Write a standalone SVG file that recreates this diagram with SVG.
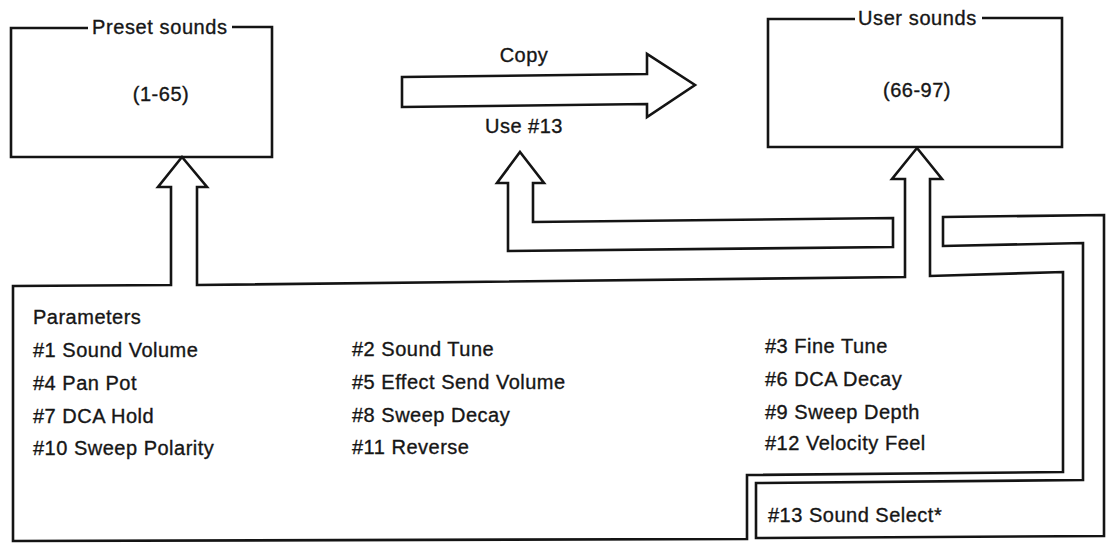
<svg xmlns="http://www.w3.org/2000/svg" width="1107" height="546" viewBox="0 0 1107 546">
<style>
.ln{fill:none;stroke:#141414;stroke-width:2.6;stroke-linejoin:miter}
.t{font-family:"Liberation Sans",Arial,sans-serif;font-size:20px;fill:#161616;stroke:#161616;stroke-width:0.35px;letter-spacing:0.5px}
.c{text-anchor:middle}
</style>
<rect width="1107" height="546" fill="#fff"/>
<g id="preset">
<path class="ln" d="M88,28 H11 V157 H272 V27 H232"/>
<text class="t" x="92" y="34" style="letter-spacing:0.6px">Preset sounds</text>
<text class="t c" x="161" y="101">(1-65)</text>
</g>
<g id="user">
<path class="ln" d="M855,19 H768 V147 H1062 V18 H982"/>
<text class="t" x="858" y="25" style="letter-spacing:0.6px">User sounds</text>
<text class="t c" x="917" y="97">(66-97)</text>
</g>
<g id="parameters">
<path class="ln" d="M13,286 L171,285 V187 H158 L182,157 L207,187 H197 V285 L905,277 V179 H892 L917,148 L942,179 H930 V276 L1063,272 V472 L747,475 V539 L13,541 Z"/>
<text class="t" x="33" y="324">Parameters</text>
<text class="t" x="33" y="357">#1 Sound Volume</text>
<text class="t" x="33" y="390">#4 Pan Pot</text>
<text class="t" x="33" y="423">#7 DCA Hold</text>
<text class="t" x="33" y="455">#10 Sweep Polarity</text>
<text class="t" x="352" y="356">#2 Sound Tune</text>
<text class="t" x="352" y="389">#5 Effect Send Volume</text>
<text class="t" x="352" y="422">#8 Sweep Decay</text>
<text class="t" x="352" y="454">#11 Reverse</text>
<text class="t" x="765" y="353">#3 Fine Tune</text>
<text class="t" x="765" y="386">#6 DCA Decay</text>
<text class="t" x="765" y="419">#9 Sweep Depth</text>
<text class="t" x="765" y="450">#12 Velocity Feel</text>
</g>
<g id="sound-select">
<path class="ln" d="M943,217 L1104,215 V536 L756,538 V483 L1083,480 V243 L943,246 Z"/>
<text class="t" x="768" y="522">#13 Sound Select*</text>
</g>
<g id="connectors">
<path class="ln" d="M402,77 L647,74 V54 L695,85 L647,117 V104 L402,107 Z"/>
<text class="t c" x="524" y="62">Copy</text>
<path class="ln" d="M520,152 L544,183 H533 V222 L893,218 V247 L508,251 V183 H497 Z"/>
<text class="t c" x="524" y="133">Use #13</text>
</g>
</svg>
